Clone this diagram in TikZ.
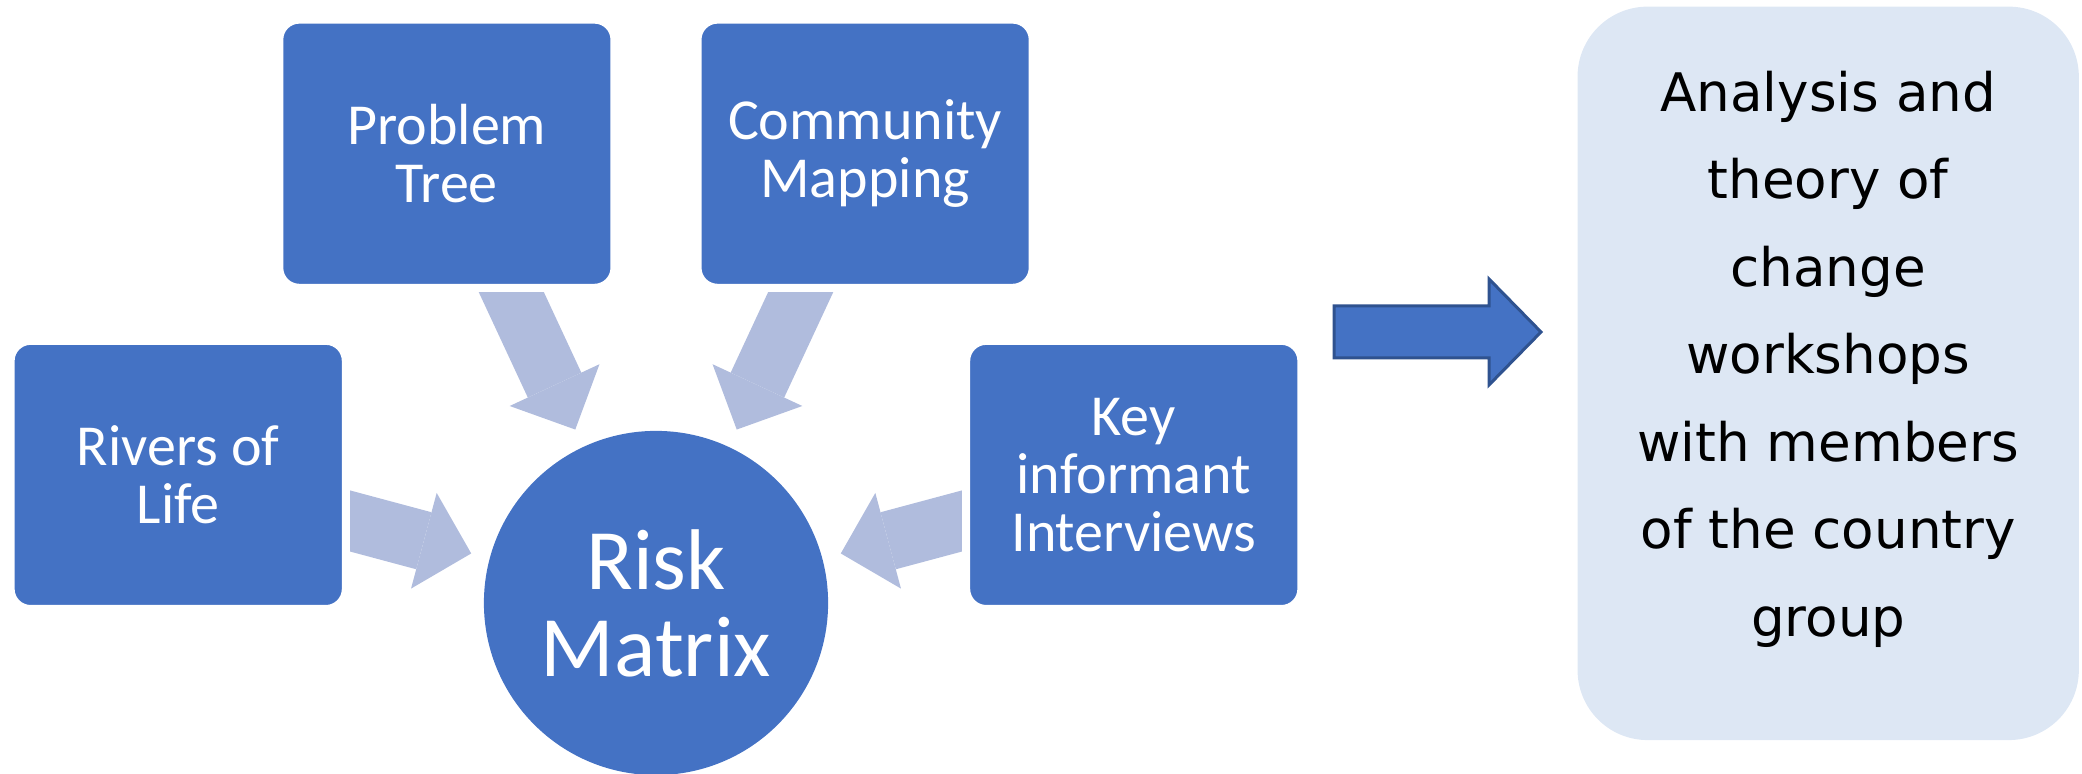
\documentclass[tikz,border=0pt]{standalone}
\usepackage{fontspec}
\setmainfont{Carlito}
\newfontfamily\panelfont{DejaVu Sans}
\usetikzlibrary{positioning,arrows.meta,backgrounds}
\definecolor{boxblue}{HTML}{4472C4}
\definecolor{feedblue}{HTML}{B0BCDD}
\definecolor{panelblue}{HTML}{DDE7F4}
\definecolor{edgeblue}{HTML}{2F528F}

\begin{document}
\begin{tikzpicture}[x=0.01cm, y=-0.01cm, on grid,
        tool/.style = {draw=white, line width=0.08cm, fill=boxblue, rounded corners=0.2cm, minimum width=3.35cm, minimum height=2.68cm, inner sep=0pt, text=white, align=center, font=\fontsize{16.5pt}{16.5pt}\selectfont},
        hub/.style = {circle, fill=boxblue, minimum size=3.44cm, inner sep=0pt, text=white, align=center, font=\fontsize{24.5pt}{24.75pt}\selectfont},
        panel/.style = {fill=panelblue, rounded corners=0.7cm, minimum width=5.01cm, minimum height=7.33cm, inner sep=0pt, align=center, font=\panelfont\fontsize{15.1pt}{24.9pt}\selectfont},
        feed/.style = {draw=feedblue, line width=0.59cm, -{Triangle[length=0.49cm, width=0.99cm, line width=0pt]}, shorten >=0.185cm},
        bigarrow/.style = {fill=boxblue, draw=edgeblue, line width=0.03cm, line join=miter}]
    \useasboundingbox (0,0) rectangle (2082,774);

    \node[hub](risk) at (656,603){Risk\\Matrix};
    \node[tool](tree)[above left=4.49cm and 2.09cm of risk]{Problem\\Tree};
    \node[tool](mapping)[above right=4.49cm and 2.09cm of risk]{Community\\Mapping};
    \node[tool](rivers)[above left=1.28cm and 4.775cm of risk]{Rivers of\\Life};
    \node[tool](interviews)[above right=1.28cm and 4.775cm of risk]{Key\\informant\\Interviews};
    \node[panel](analysis)[above right=1.015cm and 6.94cm of interviews]{Analysis and\\theory of\\change\\workshops\\with members\\of the country\\group\\[-0.48cm]};

    \begin{scope}[on background layer]
        \draw[feed] (tree.center) -- (risk);
        \draw[feed] (mapping.center) -- (risk);
        \draw[feed] (rivers.center) -- (risk);
        \draw[feed] (interviews.center) -- (risk);
    \end{scope}

    \coordinate (bigtip) at (1541,332);
    \draw[bigarrow] (bigtip) -- ++(-52,-53) -- ++(0,27) -- ++(-155,0) -- ++(0,52) -- ++(155,0) -- ++(0,27) -- cycle;
\end{tikzpicture}
\end{document}
